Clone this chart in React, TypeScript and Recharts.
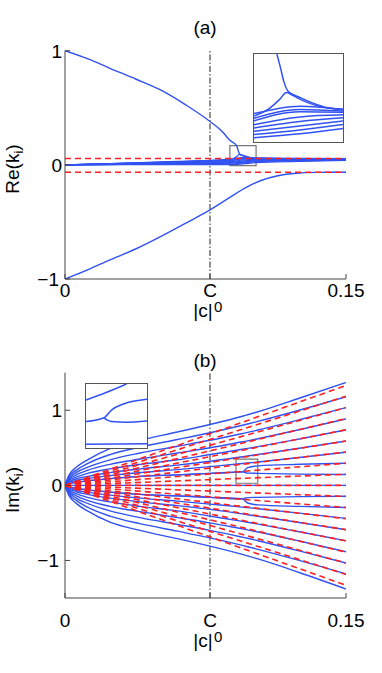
import React from "react";
import { LineChart, Line, XAxis, YAxis, ReferenceLine, ReferenceArea } from "recharts";

const FONT = '"Liberation Sans", Arial, Helvetica, sans-serif';
const BLUE = "#3152f2";
const RED = "#ff2020";
const AXIS = "#444";

const C0 = 0.0774;
const X_TICKS = [0, C0, 0.15];
const Y_TICKS = [-1, 0, 1];
const Y_TICK_LABELS = ["\u22121", "0", "1"];

// ---- panel (a): Re(k_i) ----
const aUpperX = [0, 0.012, 0.024, 0.038, 0.051, 0.064, 0.0774, 0.084, 0.088, 0.0916, 0.0922, 0.0927, 0.0934, 0.0952, 0.0972, 0.0996, 0.102, 0.125, 0.15];
const aUpperY = [1, 0.93, 0.846, 0.75, 0.656, 0.53, 0.38, 0.29, 0.215, 0.168, 0.139, 0.113, 0.0935, 0.0818, 0.0708, 0.061, 0.0578, 0.055, 0.054];

const aLowerX = [0, 0.012, 0.024, 0.038, 0.051, 0.064, 0.0774, 0.088, 0.097, 0.105, 0.113, 0.122, 0.135, 0.15];
const aLowerY = [-1, -0.92, -0.833, -0.735, -0.629, -0.515, -0.395, -0.285, -0.195, -0.135, -0.098, -0.076, -0.066, -0.065];

const aBumpX = [0, 0.04, 0.0774, 0.088, 0.0902, 0.092, 0.0931, 0.0939, 0.0957, 0.0981, 0.102, 0.125, 0.15];
const aBumpY = [0, 0.017, 0.037, 0.0448, 0.0578, 0.0773, 0.0915, 0.087, 0.0753, 0.0643, 0.0578, 0.055, 0.054];

const aBandX = [0, 0.02, 0.04, 0.06, 0.0774, 0.088, 0.0952, 0.102, 0.125, 0.15];
const aBandY = [
  [0, 0.009, 0.019, 0.03, 0.04, 0.049, 0.064, 0.058, 0.055, 0.055],
  [0, 0.008, 0.017, 0.027, 0.036, 0.0403, 0.0578, 0.0546, 0.054, 0.054],
  [0, 0.007, 0.015, 0.024, 0.031, 0.0351, 0.0533, 0.052, 0.052, 0.053],
  [0, 0.006, 0.012, 0.019, 0.024, 0.0273, 0.0429, 0.047, 0.049, 0.051],
  [0, 0.005, 0.01, 0.015, 0.018, 0.0209, 0.0338, 0.041, 0.045, 0.049],
  [0, 0.004, 0.007, 0.011, 0.013, 0.0144, 0.0248, 0.035, 0.041, 0.046],
  [0, 0.003, 0.005, 0.007, 0.008, 0.0079, 0.017, 0.028, 0.036, 0.043],
  [0, 0.001, 0.002, 0.002, 0.002, 0.0014, 0.0092, 0.02, 0.031, 0.039],
];

const aRedLevels = [0.055, -0.065];

// inset (a): zoom of the small box
const aInsetX = [0.088, 0.102];
const aInsetY = [-0.007, 0.168];
const aInSteepX = [0.0916, 0.0922, 0.0927, 0.0934, 0.0952, 0.0972, 0.0996, 0.102];
const aInSteepY = [0.168, 0.139, 0.113, 0.0935, 0.0818, 0.0708, 0.061, 0.0578];
const aInBumpX = [0.088, 0.0902, 0.092, 0.0931, 0.0939, 0.0957, 0.0981, 0.102];
const aInBumpY = [0.0448, 0.0578, 0.0773, 0.0915, 0.087, 0.0753, 0.0643, 0.0578];
const aInBandX = [0.088, 0.0952, 0.102];
const aInBandY = [
  [0.0494, 0.0643, 0.0578],
  [0.0403, 0.0578, 0.0546],
  [0.0351, 0.0533, 0.052],
  [0.0273, 0.0429, 0.047],
  [0.0209, 0.0338, 0.041],
  [0.0144, 0.0248, 0.035],
  [0.0079, 0.017, 0.028],
  [0.0014, 0.0092, 0.02],
];

// ---- panel (b): Im(k_i) ----
const bX = [0, 0.002, 0.006, 0.012, 0.024, 0.04, 0.06, 0.0774, 0.0947, 0.0975, 0.103, 0.125, 0.15];
const bUp = [
  [0, 0.02, 0.04, 0.06, 0.09, 0.12, 0.14, 0.16, 0.18, 0.163, 0.16, 0.15, 0.145],
  [0, 0.02, 0.04, 0.06, 0.09, 0.12, 0.14, 0.16, 0.18, 0.235, 0.26, 0.28, 0.295],
  [0, 0.035, 0.065, 0.09, 0.13, 0.17, 0.21, 0.25, 0.29, 0.297, 0.311, 0.37, 0.44],
  [0, 0.045, 0.085, 0.12, 0.17, 0.22, 0.27, 0.32, 0.38, 0.391, 0.411, 0.494, 0.59],
  [0, 0.06, 0.11, 0.16, 0.22, 0.28, 0.34, 0.41, 0.48, 0.492, 0.516, 0.618, 0.738],
  [0, 0.075, 0.14, 0.2, 0.28, 0.35, 0.43, 0.5, 0.58, 0.593, 0.621, 0.741, 0.885],
  [0, 0.09, 0.17, 0.24, 0.34, 0.43, 0.52, 0.6, 0.69, 0.705, 0.737, 0.873, 1.035],
  [0, 0.11, 0.2, 0.29, 0.41, 0.51, 0.61, 0.7, 0.8, 0.817, 0.852, 1.0, 1.18],
  [0, 0.13, 0.24, 0.34, 0.49, 0.6, 0.71, 0.81, 0.92, 0.94, 0.98, 1.16, 1.37],
];
const bDown = [
  [0, -0.02, -0.04, -0.06, -0.09, -0.12, -0.14, -0.16, -0.18, -0.163, -0.16, -0.15, -0.145],
  [0, -0.02, -0.04, -0.06, -0.09, -0.12, -0.14, -0.16, -0.18, -0.235, -0.26, -0.28, -0.295],
  [0, -0.035, -0.065, -0.09, -0.13, -0.17, -0.21, -0.25, -0.29, -0.297, -0.311, -0.37, -0.44],
  [0, -0.045, -0.085, -0.12, -0.17, -0.22, -0.27, -0.32, -0.38, -0.391, -0.411, -0.494, -0.59],
  [0, -0.06, -0.11, -0.16, -0.22, -0.28, -0.34, -0.41, -0.48, -0.492, -0.516, -0.618, -0.738],
  [0, -0.075, -0.14, -0.2, -0.28, -0.35, -0.43, -0.5, -0.58, -0.593, -0.621, -0.741, -0.885],
  [0, -0.09, -0.17, -0.24, -0.34, -0.43, -0.52, -0.6, -0.69, -0.705, -0.737, -0.873, -1.035],
  [0, -0.11, -0.2, -0.29, -0.41, -0.51, -0.61, -0.7, -0.8, -0.817, -0.852, -1.0, -1.18],
  [0, -0.13, -0.24, -0.34, -0.49, -0.6, -0.71, -0.81, -0.92, -0.94, -0.98, -1.16, -1.38],
];
const bZeroX = [0, 0.15];
const bZeroY = [0, 0];
const bRedX = [0, 0.15];
const bRedEnd = [1.33, 1.185, 1.035, 0.89, 0.74, 0.59, 0.445, 0.295, 0.148, 0, -0.148, -0.295, -0.445, -0.59, -0.74, -0.89, -1.035, -1.185, -1.33];

// inset (b)
const bInsetX = [0.0913, 0.1029];
const bInsetY = [0.028, 0.348];
const bInTopX = [0.0913, 0.095, 0.099];
const bInTopY = [0.268, 0.304, 0.348];
const bInRiseX = [0.0913, 0.0947, 0.0962, 0.0984, 0.1029];
const bInRiseY = [0.16, 0.179, 0.219, 0.248, 0.272];
const bInSplitX = [0.0947, 0.0962, 0.099, 0.1029];
const bInSplitY = [0.179, 0.16, 0.157, 0.163];
const bInFlatX = [0.0913, 0.1029];
const bInFlatY = [0.047, 0.049];

const pts = (xs: number[], ys: number[]) => xs.map((x, i) => ({ x, y: ys[i] }));

function blue(key: string, xs: number[], ys: number[], w = 1.4) {
  return (
    <Line key={key} data={pts(xs, ys)} dataKey="y" type="monotone" stroke={BLUE} strokeWidth={w}
      dot={false} activeDot={false} isAnimationActive={false} />
  );
}

function red(key: string, xs: number[], ys: number[]) {
  return (
    <Line key={key} data={pts(xs, ys)} dataKey="y" type="linear" stroke={RED} strokeWidth={1.6}
      strokeDasharray="6 4" dot={false} activeDot={false} isAnimationActive={false} />
  );
}

function XTick(props: any) {
  const { x, y, payload, gap, subGap, labelGap } = props;
  const v = payload.value;
  if (Math.abs(v - C0) < 1e-6) {
    return (
      <g fontFamily={FONT} fontSize={19} fill="#000">
        <text x={x} y={y + gap} textAnchor="middle">C</text>
        <text x={x + 4} y={y + subGap} fontSize={15}>0</text>
        <text x={x - 7} y={y + labelGap} textAnchor="middle">|c|</text>
      </g>
    );
  }
  return (
    <text x={x} y={y + gap} textAnchor="middle" fontFamily={FONT} fontSize={19} fill="#000">
      {v === 0 ? "0" : "0.15"}
    </text>
  );
}

function YTick(props: any) {
  const { x, y, payload } = props;
  const i = Y_TICKS.indexOf(payload.value);
  // the lowest label sits next to the x-axis "0", so nudge it left a little
  const dx = i === 0 ? -3 : 0;
  return (
    <text x={x + dx} y={y + 6.8} textAnchor="end" fontFamily={FONT} fontSize={19} fill="#000">
      {Y_TICK_LABELS[i]}
    </text>
  );
}

function frame(yDomain: number[], xHeight: number, gap: number, subGap: number, labelGap: number) {
  return [
    <XAxis key="xb" type="number" dataKey="x" domain={[0, 0.15]} ticks={X_TICKS} allowDataOverflow
      height={xHeight} tickSize={-5} tickMargin={5} stroke={AXIS}
      tick={(p: any) => <XTick {...p} gap={gap} subGap={subGap} labelGap={labelGap} />} />,
    <XAxis key="xt" xAxisId="top" orientation="top" type="number" dataKey="x" domain={[0, 0.15]}
      ticks={X_TICKS} allowDataOverflow height={0} tickSize={-5} tick={false} stroke={AXIS} />,
    <YAxis key="yl" type="number" domain={yDomain} ticks={Y_TICKS} allowDataOverflow width={65}
      tickSize={-5} tickMargin={8} stroke={AXIS} tick={(p: any) => <YTick {...p} />} />,
    <YAxis key="yr" yAxisId="right" orientation="right" type="number" domain={yDomain} ticks={Y_TICKS}
      allowDataOverflow width={0} tickSize={-5} tick={false} stroke={AXIS} />,
    <ReferenceLine key="c0" x={C0} stroke="#222" strokeWidth={1} strokeDasharray="6 2 1.5 2" />,
  ];
}

function Inset(props: any) {
  const { left, top, width, height, xDomain, yDomain, children } = props;
  return (
    <div style={{ position: "absolute", left, top, width, height, boxSizing: "border-box",
      border: "1px solid #555", background: "#fff" }}>
      <LineChart width={width - 2} height={height - 2} margin={{ top: 0, right: 0, bottom: 0, left: 0 }}>
        <XAxis type="number" dataKey="x" domain={xDomain} allowDataOverflow hide />
        <YAxis type="number" domain={yDomain} allowDataOverflow hide />
        {children}
      </LineChart>
    </div>
  );
}

export default function App() {
  return (
    <div style={{ position: "absolute", left: 0, top: 0, width: 382, height: 673, background: "#fff",
      fontFamily: FONT }}>
      {/* panel (a) */}
      <div style={{ position: "absolute", left: 0, top: 0 }}>
        <LineChart width={382} height={330} margin={{ top: 50.7, right: 36, bottom: 0, left: 0 }}>
          {frame([-1, 1], 51, 18, 32.7, 38)}
          {blue("up", aUpperX, aUpperY)}
          {blue("low", aLowerX, aLowerY)}
          {aBandY.map((ys, i) => blue("band" + i, aBandX, ys, 1.3))}
          {blue("bump", aBumpX, aBumpY, 1.3)}
          {aRedLevels.map((v, i) => red("ra" + i, [0, 0.15], [v, v]))}
          <ReferenceArea x1={aInsetX[0]} x2={aInsetX[1]} y1={aInsetY[0]} y2={aInsetY[1]}
            fill="none" stroke="#777" strokeWidth={1.2} />
        </LineChart>
      </div>
      <Inset left={253} top={53} width={91} height={90} xDomain={aInsetX} yDomain={aInsetY}>
        {aInBandY.map((ys, i) => blue("ib" + i, aInBandX, ys, 1.5))}
        {blue("isteep", aInSteepX, aInSteepY, 1.5)}
        {blue("ibump", aInBumpX, aInBumpY, 1.5)}
      </Inset>

      {/* panel (b) */}
      <div style={{ position: "absolute", left: 0, top: 330 }}>
        <LineChart width={382} height={343} margin={{ top: 42.7, right: 36, bottom: 0, left: 0 }}>
          {frame([-1.5, 1.5], 75, 28.7, 43.7, 48.7)}
          {bUp.map((ys, i) => blue("bu" + i, bX, ys))}
          {bDown.map((ys, i) => blue("bd" + i, bX, ys))}
          {blue("bz", bZeroX, bZeroY)}
          {bRedEnd.map((v, i) => red("rb" + i, bRedX, [0, v]))}
          <ReferenceArea x1={bInsetX[0]} x2={bInsetX[1]} y1={bInsetY[0]} y2={bInsetY[1]}
            fill="none" stroke="#777" strokeWidth={1.2} />
        </LineChart>
      </div>
      <Inset left={85} top={383} width={63} height={66} xDomain={bInsetX} yDomain={bInsetY}>
        {blue("it", bInTopX, bInTopY, 1.5)}
        {blue("ir", bInRiseX, bInRiseY, 1.5)}
        {blue("is", bInSplitX, bInSplitY, 1.5)}
        {blue("if", bInFlatX, bInFlatY, 1.5)}
      </Inset>

      {/* titles and y labels */}
      <svg width={382} height={673} style={{ position: "absolute", left: 0, top: 0, pointerEvents: "none" }}
        fontFamily={FONT} fontSize={19} fill="#000">
        <text x={205} y={34} textAnchor="middle">(a)</text>
        <text x={205} y={367} textAnchor="middle">(b)</text>
        <text transform="rotate(-90)" x={-169} y={19} textAnchor="middle">
          Re(k<tspan dy={4} fontSize={13}>i</tspan><tspan dy={-4}>)</tspan>
        </text>
        <text transform="rotate(-90)" x={-490} y={19} textAnchor="middle">
          Im(k<tspan dy={4} fontSize={13}>i</tspan><tspan dy={-4}>)</tspan>
        </text>
      </svg>
    </div>
  );
}
